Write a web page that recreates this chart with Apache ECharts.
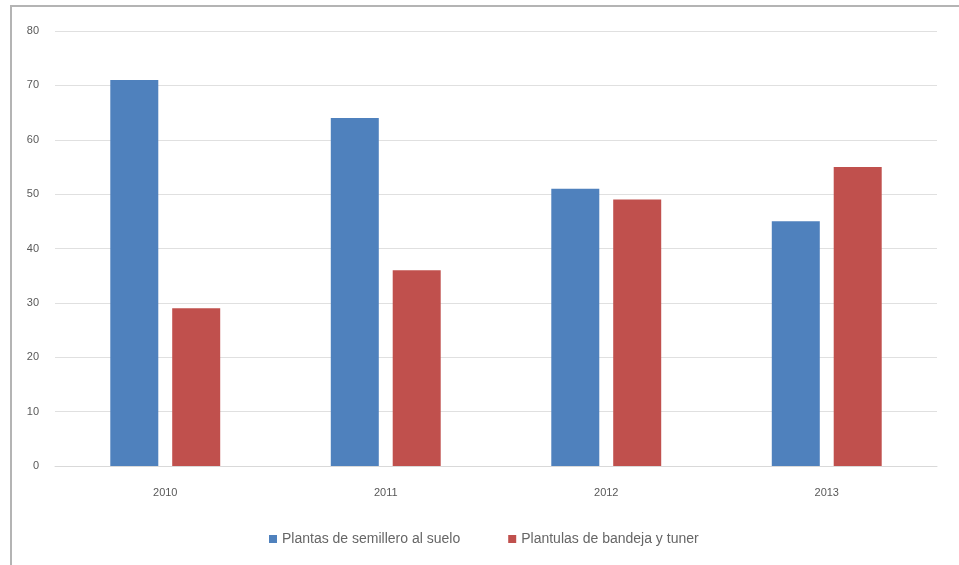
<!DOCTYPE html>
<html>
<head>
<meta charset="utf-8">
<script src="https://cdn.jsdelivr.net/npm/echarts@6/dist/echarts.min.js"></script>
<style>
html,body{margin:0;padding:0;background:#fff;}
#chart{width:959px;height:565px;}
</style>
</head>
<body>
<div id="chart"></div>
<script>
const years = ['2010', '2011', '2012', '2013'];
const semillero = [71, 64, 51, 45];
const bandeja = [29, 36, 49, 55];
const yTicks = { min: 0, max: 80, interval: 10 };

const chart = echarts.init(document.getElementById('chart'));
const textStyle = { color: '#595959', fontFamily: 'Liberation Sans', fontSize: 11 };

chart.setOption({
  animation: false,
  backgroundColor: '#fff',
  graphic: [{
    type: 'rect',
    shape: { x: 11, y: 6, width: 960, height: 570 },
    style: { fill: 'none', stroke: '#b4b4b4', lineWidth: 2 }
  }],
  grid: { left: 55, right: 22, top: 31, bottom: 99 },
  legend: {
    left: 264,
    top: 527,
    itemWidth: 8,
    itemHeight: 8,
    itemGap: 48,
    icon: 'rect',
    textStyle: Object.assign({}, textStyle, { fontSize: 14, color: '#666' }),
    data: ['Plantas de semillero al suelo', 'Plantulas de bandeja y tuner']
  },
  xAxis: {
    type: 'category',
    data: years,
    axisLine: { lineStyle: { color: '#d9d9d9' } },
    axisTick: { show: false },
    axisLabel: Object.assign({ margin: 21 }, textStyle)
  },
  yAxis: {
    type: 'value',
    min: yTicks.min,
    max: yTicks.max,
    interval: yTicks.interval,
    axisLine: { show: false },
    axisTick: { show: false },
    axisLabel: Object.assign({ margin: 16 }, textStyle),
    splitLine: { lineStyle: { color: '#e0e0e0' } }
  },
  series: [
    {
      name: 'Plantas de semillero al suelo',
      type: 'bar',
      data: semillero,
      barWidth: 48,
      barGap: '29%',
      itemStyle: { color: '#4f81bd' }
    },
    {
      name: 'Plantulas de bandeja y tuner',
      type: 'bar',
      data: bandeja,
      barWidth: 48,
      itemStyle: { color: '#c0504d' }
    }
  ]
});
</script>
</body>
</html>
